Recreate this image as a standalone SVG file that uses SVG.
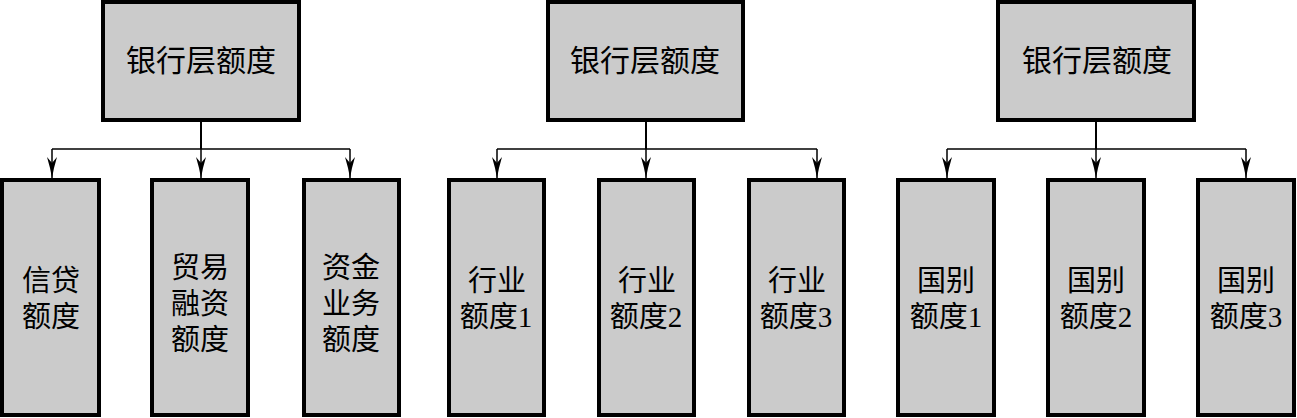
<svg xmlns="http://www.w3.org/2000/svg" width="1297" height="418" viewBox="0 0 1297 418">
<style>
.box{fill:#cbcbcb;stroke:#000;stroke-width:4}
.t{font-family:"Liberation Serif","Noto Sans CJK SC",serif;fill:#000;text-anchor:middle}
.top{font-size:30px}
.sub{font-size:29px}
.ln{fill:none;stroke:#000;stroke-width:1.5}
.stem{fill:none;stroke:#000;stroke-width:2}
</style>
<defs>
<marker id="ah" markerUnits="userSpaceOnUse" orient="auto" refX="0" refY="0" markerWidth="22" markerHeight="12" overflow="visible">
<path d="M0,0 L-10,-2 L-21,-5 L-15,0 L-21,5 L-10,2 Z" fill="#000"/>
</marker>
</defs>
<rect width="1297" height="418" fill="#fff"/>

<g id="connectors">
<path class="stem" d="M201,122 V149"/>
<path class="ln" d="M52,149 H350"/>
<path class="ln" d="M52,149 V178" marker-end="url(#ah)"/>
<path class="ln" d="M201,149 V178" marker-end="url(#ah)"/>
<path class="ln" d="M350,149 V178" marker-end="url(#ah)"/>

<path class="stem" d="M646,122 V149"/>
<path class="ln" d="M497,149 H817"/>
<path class="ln" d="M497,149 V178" marker-end="url(#ah)"/>
<path class="ln" d="M646,149 V178" marker-end="url(#ah)"/>
<path class="ln" d="M817,149 V178" marker-end="url(#ah)"/>

<path class="stem" d="M1096,122 V149"/>
<path class="ln" d="M947,149 H1246"/>
<path class="ln" d="M947,149 V178" marker-end="url(#ah)"/>
<path class="ln" d="M1096,149 V178" marker-end="url(#ah)"/>
<path class="ln" d="M1246,149 V178" marker-end="url(#ah)"/>
</g>

<g id="bank1">
<rect class="box" x="103" y="2" width="196" height="118"/>
<text class="t top" x="201" y="71">银行层额度</text>
</g>
<g id="credit">
<rect class="box" x="2" y="180" width="97" height="235"/>
<text class="t sub" x="51" y="290.5">信贷</text>
<text class="t sub" x="51" y="326.5">额度</text>
</g>
<g id="trade">
<rect class="box" x="152" y="180" width="96" height="235"/>
<text class="t sub" x="200" y="277.5">贸易</text>
<text class="t sub" x="200" y="313.5">融资</text>
<text class="t sub" x="200" y="349.5">额度</text>
</g>
<g id="treasury">
<rect class="box" x="304" y="180" width="95" height="235"/>
<text class="t sub" x="351" y="277.5">资金</text>
<text class="t sub" x="351" y="313.5">业务</text>
<text class="t sub" x="351" y="349.5">额度</text>
</g>

<g id="bank2">
<rect class="box" x="548" y="2" width="195" height="118"/>
<text class="t top" x="645" y="71">银行层额度</text>
</g>
<g id="industry1">
<rect class="box" x="449" y="180" width="95" height="235"/>
<text class="t sub" x="497" y="290.5">行业</text>
<text class="t sub" x="496" y="326.5">额度1</text>
</g>
<g id="industry2">
<rect class="box" x="599" y="180" width="95" height="235"/>
<text class="t sub" x="647" y="290.5">行业</text>
<text class="t sub" x="646" y="326.5">额度2</text>
</g>
<g id="industry3">
<rect class="box" x="749" y="180" width="95" height="235"/>
<text class="t sub" x="797" y="290.5">行业</text>
<text class="t sub" x="796" y="326.5">额度3</text>
</g>

<g id="bank3">
<rect class="box" x="998" y="2" width="196" height="118"/>
<text class="t top" x="1097" y="71">银行层额度</text>
</g>
<g id="country1">
<rect class="box" x="898" y="180" width="96" height="235"/>
<text class="t sub" x="946" y="290.5">国别</text>
<text class="t sub" x="946" y="326.5">额度1</text>
</g>
<g id="country2">
<rect class="box" x="1048" y="180" width="96" height="235"/>
<text class="t sub" x="1096" y="290.5">国别</text>
<text class="t sub" x="1096" y="326.5">额度2</text>
</g>
<g id="country3">
<rect class="box" x="1198" y="180" width="96" height="235"/>
<text class="t sub" x="1246" y="290.5">国别</text>
<text class="t sub" x="1246" y="326.5">额度3</text>
</g>
</svg>
